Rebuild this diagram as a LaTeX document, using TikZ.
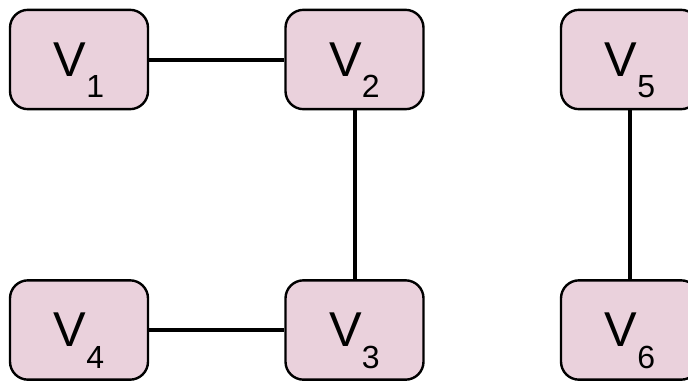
\documentclass[tikz,border=0pt]{standalone}
\usepackage{fontspec}
\setmainfont{Liberation Sans}
\definecolor{boxfill}{RGB}{234,209,220}
\newcommand{\vlab}[1]{V\smash{\raisebox{-16pt}{\fontsize{24}{24}\selectfont #1}}}
\tikzset{
  vbox/.style={draw=black, line width=1.8pt, fill=boxfill, rounded corners=13.5pt,
    minimum width=103.5pt, minimum height=74.5pt, inner sep=0pt,
    font=\fontsize{36.7}{36.7}\selectfont},
  edge/.style={draw=black, line width=3pt}
}
\begin{document}
\begin{tikzpicture}[x=0.75pt,y=-0.75pt]
\clip (0,0) rectangle (688,382);
\fill[white] (0,0) rectangle (688,382);
\node[vbox] (v1) at (79,59.5) {\vlab{1}};
\node[vbox] (v2) at (354.5,59.5) {\vlab{2}};
\node[vbox] (v5) at (630,59.5) {\vlab{5}};
\node[vbox] (v4) at (79,330) {\vlab{4}};
\node[vbox] (v3) at (354.5,330) {\vlab{3}};
\node[vbox] (v6) at (630,330) {\vlab{6}};
\draw[edge] (v1) -- (v2);
\draw[edge] (v2) -- (v3);
\draw[edge] (v4) -- (v3);
\draw[edge] (v5) -- (v6);
\end{tikzpicture}
\end{document}
